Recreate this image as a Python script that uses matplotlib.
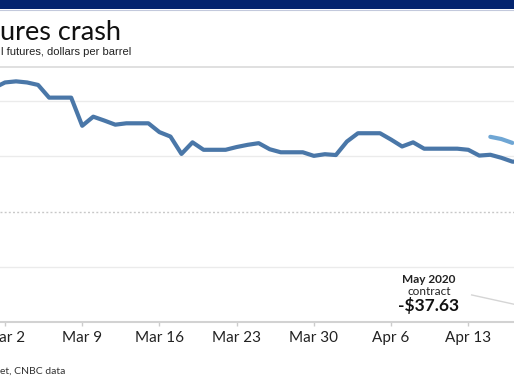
import numpy as np
import pandas as pd
import matplotlib
matplotlib.use("Agg")
import matplotlib.pyplot as plt
import matplotlib.dates as mdates
from matplotlib.patches import Rectangle
from matplotlib.lines import Line2D

# May 2020 WTI contract, settle by trading day
may_dates = ["2020-02-28", "2020-03-02", "2020-03-03", "2020-03-04", "2020-03-05", "2020-03-06",
             "2020-03-09", "2020-03-10", "2020-03-11", "2020-03-12", "2020-03-13",
             "2020-03-16", "2020-03-17", "2020-03-18", "2020-03-19", "2020-03-20",
             "2020-03-23", "2020-03-24", "2020-03-25", "2020-03-26", "2020-03-27",
             "2020-03-30", "2020-03-31", "2020-04-01", "2020-04-02", "2020-04-03",
             "2020-04-06", "2020-04-07", "2020-04-08", "2020-04-09",
             "2020-04-13", "2020-04-14", "2020-04-15", "2020-04-16", "2020-04-17",
             "2020-04-20"]
may_values = [44.8, 46.8, 47.2, 46.8, 45.9, 41.3,
              31.1, 34.4, 33.0, 31.5, 32.0,
              28.8, 27.2, 20.9, 25.1, 22.4,
              23.4, 24.2, 24.8, 22.6, 21.5,
              20.2, 20.8, 20.5, 25.4, 28.4,
              26.1, 23.6, 25.1, 22.8,
              22.4, 20.3, 20.6, 19.5, 18.1,
              -37.63]

# June 2020 contract
june_dates = ["2020-04-15", "2020-04-16", "2020-04-17"]
june_values = [27.1, 26.3, 24.9]

tick_dates = ["2020-03-02", "2020-03-09", "2020-03-16", "2020-03-23",
              "2020-03-30", "2020-04-06", "2020-04-13"]
tick_labels = ["Mar 2", "Mar 9", "Mar 16", "Mar 23", "Mar 30", "Apr 6", "Apr 13"]


def daily(dates, values):
    s = pd.Series(values, index=pd.to_datetime(dates))
    full = pd.date_range(s.index[0], s.index[-1], freq="D")
    return s.reindex(full).ffill()


may = daily(may_dates, may_values)
june = daily(june_dates, june_values)

W, H = 514, 386
fig = plt.figure(figsize=(W / 100, H / 100), dpi=100)
fig.patch.set_facecolor("white")

# axes runs past the left/right edges of the picture
ax = fig.add_axes([0, 1 - 322 / H, 1, (322 - 67) / H])
ax.set_facecolor("white")

ax.plot(may.index, may.values, color="#4a77a8", lw=3.0, solid_joinstyle="round",
        solid_capstyle="round", zorder=3)
ax.plot(june.index, june.values, color="#6fa6d4", lw=3.0, solid_joinstyle="round",
        solid_capstyle="round", zorder=3)

for v in [40, 20, -20]:
    ax.axhline(v, color="#ebebeb", lw=1.0, zorder=1)
ax.axhline(0, color="#c8c8c8", lw=1.0, ls=(0, (1.4, 1.6)), zorder=1)

ax.set_xticks(mdates.date2num(pd.to_datetime(tick_dates)))
ax.set_xticklabels(tick_labels, fontfamily="Lato", fontsize=11, color="#222222")
ax.tick_params(axis="x", length=3, width=1, color="#cccccc", pad=3.5)
ax.set_yticks([])

t0 = mdates.date2num(pd.Timestamp("2020-03-02"))
px_day = 11.03
ax.set_xlim(t0 - 5 / px_day, t0 + (W - 5) / px_day)
ax.set_ylim(-40, 52.4)

for side in ["left", "right"]:
    ax.spines[side].set_visible(False)
ax.spines["bottom"].set_color("#d2d2d2")
ax.spines["bottom"].set_linewidth(1.5)
ax.spines["top"].set_color("#dddddd")
ax.spines["top"].set_linewidth(1.3)

# annotation for the final May contract settle
ax.text(t0 + 38.44, -24.7, "May 2020", ha="center", va="center", fontfamily="Lato",
        fontweight="bold", fontsize=8.5, color="#222222")
ax.text(t0 + 38.44, -29.1, "contract", ha="center", va="center", fontfamily="Lato",
        fontsize=8.5, color="#222222")
ax.text(t0 + 38.44, -34.2, "-$37.63", ha="center", va="center", fontfamily="Lato",
        fontweight="bold", fontsize=12.5, color="#111111")
ax.plot([t0 + 42.31, t0 + 48.7], [-30.2, -35.8], color="#d5d5d5", lw=1.0, zorder=2)

# header band
fig.add_artist(Rectangle((0, 1 - 9 / H), 1, 9 / H, transform=fig.transFigure,
                         facecolor="#03246e", edgecolor="none"))
fig.add_artist(Line2D([0, 1], [1 - 9.8 / H, 1 - 9.8 / H], transform=fig.transFigure,
                      color="#c3c9dc", lw=0.8))

fig.text(0.0, 1 - 40 / H, "ures crash", ha="left", va="baseline", fontfamily="Lato",
         fontsize=19.5, color="#111111")
fig.text(1 / W, 1 - 55 / H, "l futures, dollars per barrel", ha="left", va="baseline",
         fontfamily="Liberation Sans", fontsize=8, color="#222222")
fig.text(0.0, 1 - 374 / H, "et, CNBC data", ha="left", va="baseline", fontfamily="Lato",
         fontsize=7.5, color="#333333")

fig.savefig("out.png", dpi=100)
